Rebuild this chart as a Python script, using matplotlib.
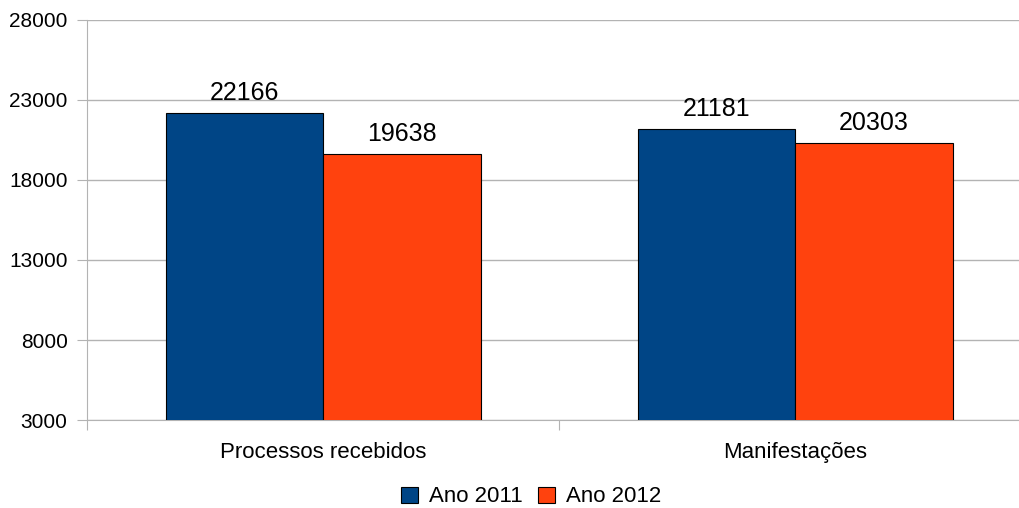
import matplotlib
matplotlib.use("Agg")
import matplotlib.pyplot as plt
import numpy as np

categories = ["Processos recebidos", "Manifestações"]
series_names = ["Ano 2011", "Ano 2012"]
values_2011 = [22166, 21181]
values_2012 = [19638, 20303]
yticks = [3000, 8000, 13000, 18000, 23000, 28000]
colors = ["#004586", "#ff420e"]

plt.rcParams['font.family'] = ['Liberation Sans', 'DejaVu Sans']

fig = plt.figure(figsize=(10.19, 5.08), dpi=100)
ax = fig.add_axes([87/1019, 1 - 420/508, (1031 - 87)/1019, (420 - 20)/508])

x = np.arange(len(categories))
w = 0.333
bars = []
for i, (vals, name) in enumerate(zip([values_2011, values_2012], series_names)):
    b = ax.bar(x + (i - 0.5) * w + 0.001, vals, width=w, bottom=0, color=colors[i],
               edgecolor="black", linewidth=0.8, label=name, zorder=3)
    bars.append(b)
    for rect, v in zip(b, vals):
        ax.annotate(str(v), (rect.get_x() + rect.get_width() / 2, v),
                    xytext=(0, 8), textcoords="offset pixels",
                    ha="center", va="bottom", fontsize=18, color="black", zorder=4)

ax.set_ylim(3000, 28000)
ax.set_xlim(-0.5, 1.5)
ax.set_yticks(yticks)
ax.set_yticklabels([str(t) for t in yticks], fontsize=15)
ax.yaxis.grid(True, color="#b3b3b3", linewidth=1)
ax.set_axisbelow(True)
for s in ["top", "right"]:
    ax.spines[s].set_visible(False)
ax.spines["left"].set_color("#b3b3b3")
ax.spines["bottom"].set_color("#b3b3b3")
ax.tick_params(axis="y", length=7, color="#b3b3b3", pad=7)

ax.set_xticks([-0.5, 0.5, 1.5])
ax.set_xticklabels([])
ax.set_xticks(x, minor=True)
ax.set_xticklabels(categories, minor=True, fontsize=16)
ax.tick_params(axis="x", which="major", length=7, color="#b3b3b3")
ax.tick_params(axis="x", which="minor", length=0, pad=16)

fig.legend(handles=bars, labels=series_names, loc="center", bbox_to_anchor=(0.521, 1 - 497/508),
           ncol=2, frameon=False, fontsize=16, handlelength=0.75, handleheight=0.75,
           handletextpad=0.5, columnspacing=0.7)

fig.savefig("out.png", dpi=100)
